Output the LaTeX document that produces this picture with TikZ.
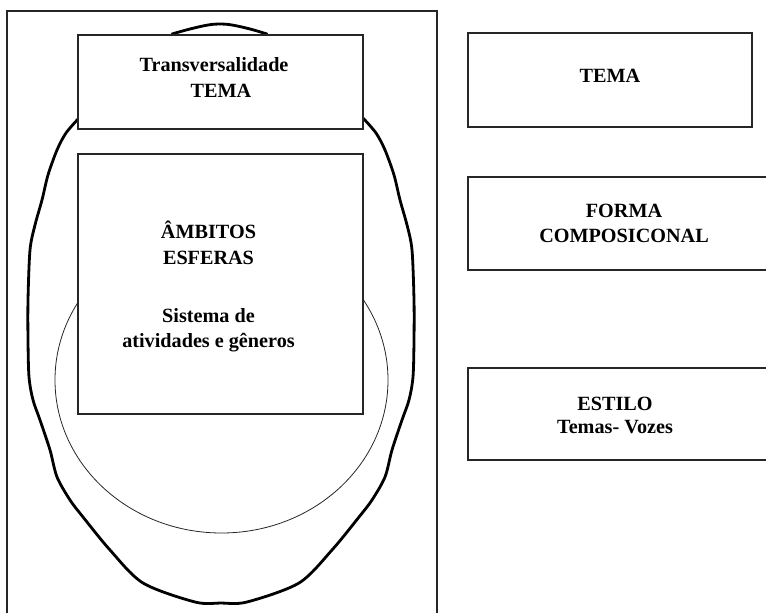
\documentclass[tikz,border=0pt]{standalone}
\usepackage{fontspec}
\setmainfont{Liberation Serif}
\begin{document}
\begin{tikzpicture}[x=1bp,y=-1bp,
  lbl/.style={anchor=base,inner sep=0pt,font=\fontsize{20.2bp}{23bp}\selectfont\bfseries},
  boxline/.style={draw=black!85,line width=1.5bp},
  frameline/.style={draw=black!85,line width=1.2bp},
  thickline/.style={draw=black,line width=2.8bp,line join=round,line cap=round},
  thinline/.style={draw=black!85,line width=0.8bp}]
\useasboundingbox (0,0) rectangle (766,613);
\clip (0,0) rectangle (766,613);
% outer frame (open at bottom)
\coordinate (fbl) at (7,620);
\coordinate (ftl) at (7,11);
\coordinate (ftr) at (437,11);
\coordinate (fbr) at (437,620);
\draw[frameline] (fbl) -- (ftl) -- (ftr) -- (fbr);
% thin ellipse
\draw[thinline] (221.5,380) ellipse [x radius=166.5bp, y radius=153bp];
% thick outer shape
\draw[thickline] plot[smooth,tension=0.5] coordinates {
 (79,118) (66,133) (57,150) (48,175) (42,200) (35,225) (30,250) (28,300) (28,340) (29,377) (33,400) (40,420) (50,450) (57,477) (70,500) (83,517) (110,550) (143,583) (195,602) (221,603)
 (247,602) (299,583) (332,550) (359,517) (372,500) (385,477) (392,450) (402,420) (409,400) (413,377) (414,340) (414,300) (412,250) (407,225) (400,200) (394,175) (385,150) (376,133) (363,118)};
\draw[thickline] plot[smooth,tension=0.6] coordinates {(172,34) (190,29) (208,25) (220,24) (232,25) (250,29) (267,34)};
% left boxes
\node[boxline,fill=white,rectangle,inner sep=0pt,minimum width=285bp,minimum height=94bp] (top) at (220.5,82) {};
\node[boxline,fill=white,rectangle,inner sep=0pt,minimum width=285bp,minimum height=260bp] (mid) at (220.5,284) {};
% right boxes
\draw[boxline] (468,33) rectangle (752,127) node[pos=0.5] (rtema) {};
\draw[boxline] (468,177) rectangle (780,270) node[pos=0.5] (rforma) {};
\draw[boxline] (468,368) rectangle (780,460) node[pos=0.5] (restilo) {};
% texts
\node[lbl] (t1) at (214,72) {Transversalidade};
\node[lbl] (t2) at (221,98) {TEMA};
\node[lbl] (m1) at (208.5,238) {ÂMBITOS};
\node[lbl] (m2) at (208.5,264) {ESFERAS};
\node[lbl] (m3) at (208.5,322) {Sistema de};
\node[lbl] (m4) at (208.5,347) {atividades e gêneros};
\node[lbl] (r1) at (610,83) {TEMA};
\node[lbl] (r2) at (624,218) {FORMA};
\node[lbl] (r3) at (624,242) {COMPOSICONAL};
\node[lbl] (r4) at (615,410) {ESTILO};
\node[lbl] (r5) at (615,433) {Temas- Vozes};
\end{tikzpicture}
\end{document}
